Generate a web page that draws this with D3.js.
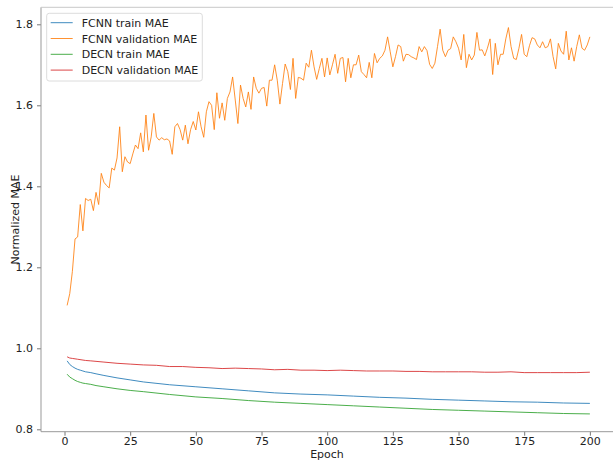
<!DOCTYPE html>
<html>
<head>
<meta charset="utf-8">
<script src="https://cdn.jsdelivr.net/npm/d3@7"></script>
<style>
  body { margin: 0; background: #fff; }
  text { font-family: "DejaVu Sans", sans-serif; }
</style>
</head>
<body>
<svg id="chart" width="613" height="460"></svg>
<script>
// FCNN validation MAE, one value per epoch (1..200)
const fcnnValid = [
  1.106, 1.135, 1.19, 1.27, 1.275, 1.355, 1.29, 1.37, 1.365, 1.368,
  1.34, 1.385, 1.355, 1.432, 1.41, 1.402, 1.396, 1.445, 1.44, 1.47,
  1.547, 1.436, 1.473, 1.46, 1.456, 1.48, 1.502, 1.493, 1.532, 1.485,
  1.576, 1.489, 1.522, 1.58, 1.522, 1.514, 1.52, 1.515, 1.517, 1.512,
  1.479, 1.547, 1.555, 1.54, 1.514, 1.551, 1.505, 1.54, 1.56, 1.539,
  1.584, 1.547, 1.521, 1.584, 1.609, 1.6, 1.54, 1.631, 1.568, 1.606,
  1.563, 1.617, 1.633, 1.67, 1.613, 1.555, 1.65, 1.617, 1.596, 1.633,
  1.59, 1.67, 1.642, 1.63, 1.642, 1.644, 1.598, 1.662, 1.662, 1.7,
  1.662, 1.603, 1.654, 1.702, 1.683, 1.639, 1.716, 1.617, 1.669, 1.667,
  1.662, 1.704, 1.694, 1.736, 1.695, 1.664, 1.691, 1.716, 1.67, 1.717,
  1.675, 1.70, 1.726, 1.679, 1.716, 1.718, 1.658, 1.716, 1.668, 1.70,
  1.70, 1.724, 1.683, 1.676, 1.668, 1.706, 1.668, 1.728, 1.705, 1.716,
  1.722, 1.736, 1.769, 1.732, 1.695, 1.72, 1.749, 1.745, 1.709, 1.726,
  1.725, 1.72, 1.717, 1.713, 1.745, 1.732, 1.745, 1.735, 1.701, 1.691,
  1.704, 1.745, 1.788, 1.736, 1.72, 1.736, 1.74, 1.769, 1.757, 1.741,
  1.712, 1.775, 1.693, 1.726, 1.712, 1.724, 1.78, 1.736, 1.737, 1.722,
  1.741, 1.764, 1.676, 1.753, 1.70, 1.726, 1.726, 1.764, 1.792, 1.745,
  1.716, 1.713, 1.741, 1.775, 1.726, 1.72, 1.747, 1.767, 1.764, 1.749,
  1.742, 1.757, 1.742, 1.745, 1.764, 1.72, 1.69, 1.753, 1.734, 1.726,
  1.783, 1.712, 1.742, 1.709, 1.745, 1.774, 1.741, 1.736, 1.749, 1.769
];

// smooth training curves, sampled at these epochs
const trainEpochs = [1, 2, 3, 4, 5, 6, 7, 8, 10, 12, 15, 20, 25, 30, 40, 50, 60, 70, 80, 90,
  100, 110, 120, 130, 140, 150, 160, 170, 180, 190, 200];
const fcnnTrain = [0.969, 0.960, 0.955, 0.951, 0.948, 0.946, 0.944, 0.942, 0.940, 0.937,
  0.933, 0.927, 0.922, 0.917, 0.910, 0.905, 0.900, 0.895, 0.890, 0.887,
  0.885, 0.882, 0.879, 0.877, 0.874, 0.872, 0.870, 0.868, 0.867, 0.865, 0.864];
const decnTrain = [0.936, 0.929, 0.925, 0.921, 0.918, 0.916, 0.914, 0.913, 0.911, 0.908,
  0.905, 0.900, 0.896, 0.893, 0.886, 0.880, 0.876, 0.871, 0.867, 0.864,
  0.861, 0.858, 0.855, 0.852, 0.849, 0.847, 0.845, 0.843, 0.841, 0.839, 0.838];

const decnValidEpochs = [1, 2, 3, 5, 8, 10, 15, 20, 25, 30, 35, 40, 45, 50, 55, 60, 65, 70, 75, 80,
  85, 90, 95, 100, 105, 110, 115, 120, 125, 130, 135, 140, 145, 150, 155, 160, 165, 170, 175, 180,
  185, 190, 195, 200];
const decnValid = [0.979, 0.976, 0.975, 0.973, 0.970, 0.969, 0.966, 0.963, 0.961, 0.959,
  0.958, 0.955, 0.955, 0.953, 0.952, 0.950, 0.951, 0.950, 0.949, 0.947,
  0.948, 0.946, 0.946, 0.945, 0.946, 0.945, 0.944, 0.944, 0.944, 0.943,
  0.943, 0.942, 0.942, 0.942, 0.942, 0.941, 0.941, 0.942, 0.940, 0.940,
  0.940, 0.940, 0.940, 0.941];

const xTicks = [0, 25, 50, 75, 100, 125, 150, 175, 200];
const yTicks = [0.8, 1.0, 1.2, 1.4, 1.6, 1.8];

const seriesNames = ["FCNN train MAE", "FCNN validation MAE", "DECN train MAE", "DECN validation MAE"];
const seriesColors = ["#1f77b4", "#ff7f0e", "#2ca02c", "#d62728"];

const svg = d3.select("#chart");
const plot = { left: 41, right: 616, top: 7.3, bottom: 431.7 };

const x = d3.scaleLinear().domain([-8.95, 209.95]).range([plot.left, plot.right]);
const y = d3.scaleLinear().domain([0.7941, 1.842]).range([plot.bottom, plot.top]);

// series
const series = [
  trainEpochs.map((e, i) => [e, fcnnTrain[i]]),
  fcnnValid.map((v, i) => [i + 1, v]),
  trainEpochs.map((e, i) => [e, decnTrain[i]]),
  decnValidEpochs.map((e, i) => [e, decnValid[i]])
];

const line = d3.line().x(d => x(d[0])).y(d => y(d[1]));

svg.append("g")
  .selectAll("path")
  .data(series)
  .join("path")
  .attr("d", line)
  .attr("fill", "none")
  .attr("stroke", (_, i) => seriesColors[i])
  .attr("stroke-opacity", 0.85)
  .attr("stroke-width", 1);

// axes
const xAxis = svg.append("g")
  .attr("transform", `translate(0,${plot.bottom})`)
  .call(d3.axisBottom(x).tickValues(xTicks).tickSize(4).tickPadding(2));

const yAxis = svg.append("g")
  .attr("transform", `translate(${plot.left},0)`)
  .call(d3.axisLeft(y).tickValues(yTicks).tickFormat(d3.format(".1f")).tickSize(4).tickPadding(4));

[xAxis, yAxis].forEach(g => {
  g.select(".domain").remove();
  g.selectAll("line").attr("stroke", "#777");
  g.selectAll("text")
    .attr("fill", "#222")
    .style("font-size", "11px")
    .style("font-family", "DejaVu Sans, sans-serif");
});

// spines
svg.append("line")
  .attr("x1", plot.left).attr("x2", plot.left)
  .attr("y1", plot.top).attr("y2", plot.bottom)
  .attr("stroke", "#999");
svg.append("line")
  .attr("x1", plot.left).attr("x2", plot.right)
  .attr("y1", plot.bottom).attr("y2", plot.bottom)
  .attr("stroke", "#999");
svg.append("line")
  .attr("x1", plot.left).attr("x2", plot.right)
  .attr("y1", plot.top).attr("y2", plot.top)
  .attr("stroke", "#c8c8c8");

// axis labels
svg.append("text")
  .attr("x", 327)
  .attr("y", 457.5)
  .attr("text-anchor", "middle")
  .attr("fill", "#222")
  .style("font-size", "11px")
  .text("Epoch");

svg.append("text")
  .attr("transform", "translate(19,219.5) rotate(-90)")
  .attr("text-anchor", "middle")
  .attr("fill", "#222")
  .style("font-size", "11px")
  .text("Normalized MAE");

// legend
const legend = svg.append("g").attr("transform", "translate(46.7,13.3)");
legend.append("rect")
  .attr("width", 155.6)
  .attr("height", 67.7)
  .attr("rx", 2.5)
  .attr("fill", "#fff")
  .attr("fill-opacity", 0.8)
  .attr("stroke", "#dcdcdc");

const items = legend.selectAll(".legend-item")
  .data(seriesNames)
  .join("g")
  .attr("class", "legend-item")
  .attr("transform", (_, i) => `translate(0,${9.4 + i * 15.8})`);

items.append("line")
  .attr("x1", 4).attr("x2", 26)
  .attr("stroke", (_, i) => seriesColors[i])
  .attr("stroke-opacity", 0.85)
  .attr("stroke-width", 1);

items.append("text")
  .attr("x", 35)
  .attr("y", 4)
  .attr("fill", "#222")
  .style("font-size", "11px")
  .text(d => d);
</script>
</body>
</html>
